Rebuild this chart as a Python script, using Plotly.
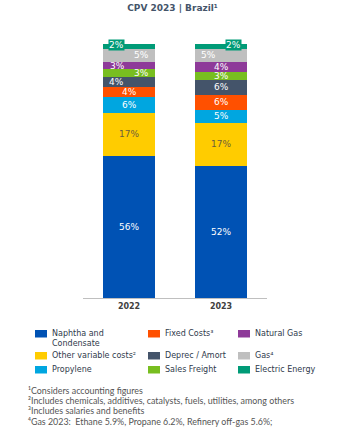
import plotly.graph_objects as go
import numpy as np

# ---- data ----
years = ["2022", "2023"]
naphtha = [56, 52]
other_variable = [17, 17]
propylene = [6, 5]
fixed_costs = [4, 6]
deprec_amort = [4, 6]
sales_freight = [3, 3]
natural_gas = [3, 4]
gas = [5, 5]
electric_energy = [2, 2]

series_names = ["Naphtha and<br>Condensate", "Other variable costs²", "Propylene",
                "Fixed Costs³", "Deprec / Amort", "Sales Freight",
                "Natural Gas", "Gas⁴", "Electric Energy"]
series_values = [naphtha, other_variable, propylene, fixed_costs, deprec_amort,
                 sales_freight, natural_gas, gas, electric_energy]

title_text = "CPV 2023 | Brazil¹"
footnotes = ["¹Considers accounting figures",
             "²Includes chemicals, additives, catalysts, fuels, utilities, among others",
             "³Includes salaries and benefits",
             "⁴Gas 2023:  Ethane 5.9%, Propane 6.2%, Refinery off-gas 5.6%;"]

# ---- styles ----
colors = ["#0052B4", "#FFCC00", "#00A6E0", "#FF5000", "#44546A",
          "#78BE20", "#8E3A99", "#BFBFBF", "#009B77"]
label_colors = ["white", "#6b5e3c", "white", "white", "white",
                "white", "white", "white", "white"]
# horizontal offsets (px) of labels per series per year
label_shift = [[0, 0], [0, 0], [0, 0], [0, 0], [-13, 0],
               [12, 0], [-12, 0], [12, -13], [-13, 12]]

W, H = 351, 439
L, R, T, B = 83, 84, 44, 141
PW, PH = W - L - R, H - T - B

def px2x(px):
    return (px - L) / PW

def px2y(py):
    return (H - B - py) / PH

fig = go.Figure()
for name, vals, col in zip(series_names, series_values, colors):
    fig.add_trace(go.Bar(x=years, y=vals, name=name, marker=dict(color=col, line=dict(width=0)),
                         showlegend=False, hoverinfo="skip"))

annotations = []
vals_arr = np.array(series_values, dtype=float)
bottoms = np.cumsum(vals_arr, axis=0) - vals_arr
for i in range(len(series_values)):
    for j, yr in enumerate(years):
        mid = float(bottoms[i, j] + vals_arr[i, j] / 2)
        ann = dict(x=j, y=mid, xref="x", yref="y", text=f"{int(vals_arr[i, j])}%",
                   showarrow=False, xshift=label_shift[i][j],
                   font=dict(family="DejaVu Sans", size=9, color=label_colors[i]))
        if i == len(series_values) - 1:
            ann.update(bgcolor=colors[i], borderpad=0, yshift=2)
        annotations.append(ann)

# ---- manual legend (3 columns, row-wise) ----
legend_order = [0, 3, 6, 1, 4, 7, 2, 5, 8]
col_x = [35, 148, 238]
row_marker_y = [330, 352, 366]
for k, idx in enumerate(legend_order):
    r, c = divmod(k, 3)
    mx = col_x[c]
    my = row_marker_y[r]
    fig.add_shape(type="rect", xref="paper", yref="paper",
                  x0=px2x(mx), x1=px2x(mx + 12), y0=px2y(my), y1=px2y(my + 7.5),
                  fillcolor=colors[idx], line=dict(width=0))
    annotations.append(dict(x=px2x(mx + 16), y=px2y(my - 2.5), xref="paper", yref="paper",
                            xanchor="left", yanchor="top", align="left",
                            text=series_names[idx], showarrow=False, borderpad=0,
                            font=dict(family="DejaVu Sans", size=8, color="#2f3a4c")))

foot_y = [390, 400, 410.5, 421]
for txt, fy in zip(footnotes, foot_y):
    annotations.append(dict(x=px2x(27), y=px2y(fy), xref="paper", yref="paper",
                            xanchor="left", yanchor="middle", text=txt, showarrow=False,
                            borderpad=0, font=dict(family="Lato", size=8.9, color="#555555")))

fig.update_layout(
    width=W, height=H,
    margin=dict(l=L, r=R, t=T, b=B, pad=0),
    barmode="stack", bargap=0.445,
    plot_bgcolor="white", paper_bgcolor="white",
    title=dict(text=f"<b>{title_text}</b>", x=172.5 / W, xref="container", xanchor="center",
               y=1 - 8 / H, yref="container", yanchor="middle",
               font=dict(family="DejaVu Sans", size=9, color="#44546A")),
    xaxis=dict(type="category", range=[-0.5, 1.5], showline=True, linecolor="#BFBFBF",
               linewidth=1, ticks="",
               tickfont=dict(family="DejaVu Sans", size=8, color="#404040", weight="bold"),
               showgrid=False, zeroline=False, fixedrange=True),
    yaxis=dict(range=[0, 100], visible=False, fixedrange=True),
    annotations=annotations,
    showlegend=False,
)

fig.write_html("out.html")
